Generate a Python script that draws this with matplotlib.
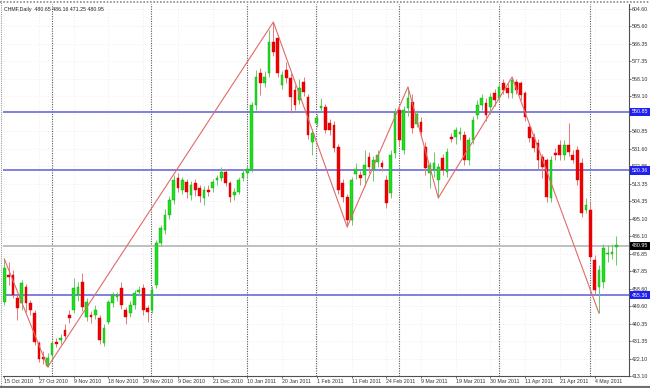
import matplotlib
matplotlib.use("Agg")
import matplotlib.pyplot as plt
from matplotlib.transforms import blended_transform_factory
from matplotlib.lines import Line2D

# ---------------- data ----------------
opens = [451.7, 465.8, 465.8, 453.8, 451.2, 459.5, 451.2, 446.0, 430.3, 423.0,
         418.5, 424.0, 430.8, 431.9, 437.1, 444.9, 447.5, 455.4, 462.1, 443.9,
         444.9, 444.9, 443.4, 430.3, 441.3, 451.2, 454.3, 459.0, 447.5, 446.0,
         450.2, 456.9, 459.0, 448.6, 447.5, 460.6, 482.5, 489.3, 497.1, 504.9,
         516.4, 510.2, 514.3, 507.5, 513.8, 511.2, 506.0, 510.2, 511.2, 515.4,
         516.4, 519.5, 513.8, 507.5, 509.1, 516.4, 519.0, 520.6, 554.5, 571.2,
         566.0, 571.2, 587.4, 589.5, 565.0, 572.8, 568.6, 562.3, 557.1, 566.5,
         558.7, 535.2, 545.1, 553.0, 553.5, 545.1, 544.1, 532.6, 513.8, 506.5,
         494.5, 518.6, 518.0, 518.0, 527.4, 520.6, 524.7, 524.2, 515.4, 508.6,
         529.5, 551.9, 531.0, 553.0, 556.1, 544.6, 545.6, 532.6, 519.0, 520.6,
         515.4, 526.8, 519.5, 537.8, 537.8, 539.4, 538.9, 525.8, 536.2, 549.3,
         554.5, 555.6, 553.5, 560.8, 558.2, 566.0, 563.4, 560.8, 566.5, 566.0,
         560.8, 543.0, 537.8, 534.7, 527.4, 525.8, 506.0, 529.5, 533.6, 528.4,
         533.6, 528.4, 531.0, 524.2, 499.7, 499.7, 473.6, 459.5, 462.2, 476.5,
         477.0, 480.65]
highs = [474.2, 472.6, 468.4, 455.9, 463.2, 461.1, 453.0, 447.5, 431.5, 426.0,
         425.0, 432.0, 433.0, 435.0, 440.0, 447.5, 464.2, 462.0, 466.8, 454.0,
         447.0, 450.0, 445.0, 440.0, 453.0, 457.0, 457.0, 462.2, 449.0, 452.0,
         458.0, 460.0, 461.0, 450.0, 460.0, 484.0, 492.0, 500.0, 507.0, 518.0,
         519.0, 517.0, 516.0, 515.0, 516.0, 513.0, 512.0, 513.0, 516.0, 518.0,
         522.0, 521.0, 515.0, 511.0, 517.0, 521.0, 523.0, 556.0, 572.8, 574.0,
         572.0, 593.6, 597.8, 591.0, 572.0, 577.0, 571.0, 565.0, 568.0, 569.0,
         560.0, 542.0, 550.0, 558.2, 555.0, 547.0, 546.0, 534.0, 516.0, 508.0,
         517.0, 524.0, 520.0, 531.0, 530.0, 528.0, 531.0, 526.0, 518.0, 531.0,
         553.0, 554.0, 554.0, 563.9, 560.0, 552.0, 548.0, 535.0, 525.0, 530.0,
         524.0, 529.0, 532.0, 540.0, 543.0, 543.0, 541.0, 538.0, 549.0, 557.0,
         560.0, 558.0, 561.0, 563.0, 566.0, 568.0, 566.0, 569.1, 568.0, 567.0,
         562.0, 545.0, 540.0, 537.0, 529.0, 527.0, 528.0, 532.0, 536.0, 536.0,
         545.1, 531.0, 533.0, 527.0, 506.0, 503.9, 476.0, 471.0, 482.0, 481.5,
         482.0, 486.16]
lows = [450.1, 460.6, 453.8, 442.3, 447.5, 446.5, 445.0, 429.5, 420.5, 419.5,
        417.8, 421.0, 428.0, 430.0, 432.0, 440.8, 446.0, 452.0, 447.0, 442.0,
        441.0, 443.0, 430.0, 429.0, 440.0, 449.0, 452.0, 448.0, 440.0, 444.0,
        448.0, 455.0, 445.0, 441.3, 446.0, 459.0, 481.0, 487.0, 495.0, 503.0,
        509.0, 508.0, 506.0, 505.0, 507.0, 504.0, 502.3, 507.0, 509.0, 513.0,
        515.0, 512.0, 503.9, 505.0, 508.0, 515.0, 517.0, 519.5, 552.0, 559.7,
        564.0, 569.0, 580.0, 569.0, 563.0, 566.0, 550.3, 552.0, 555.0, 559.0,
        537.0, 528.4, 543.0, 551.0, 540.0, 539.0, 530.0, 508.0, 504.0, 490.9,
        492.0, 516.0, 513.0, 512.2, 519.0, 514.8, 522.0, 520.0, 501.0, 506.0,
        527.0, 533.0, 529.0, 549.0, 540.0, 543.0, 538.0, 518.0, 511.2, 517.0,
        506.0, 518.0, 517.0, 535.0, 534.0, 536.2, 523.0, 523.0, 534.0, 547.0,
        552.0, 546.0, 550.0, 554.0, 556.0, 560.0, 558.0, 558.0, 560.0, 557.0,
        546.0, 535.0, 530.0, 520.6, 516.4, 504.0, 504.0, 526.0, 526.0, 526.0,
        528.0, 524.0, 513.0, 496.0, 498.0, 473.0, 455.4, 446.0, 459.0, 472.6,
        474.0, 471.25]
closes = [469.5, 464.8, 455.4, 448.6, 461.6, 451.2, 447.5, 430.8, 422.0, 422.0,
          422.5, 430.3, 429.8, 432.9, 434.0, 443.4, 459.0, 459.5, 449.1, 451.7,
          443.9, 447.5, 431.9, 438.2, 451.7, 455.4, 455.3, 450.2, 443.9, 450.2,
          456.4, 457.9, 447.5, 446.5, 458.0, 482.5, 490.3, 497.1, 504.9, 515.4,
          511.2, 515.4, 509.1, 512.8, 510.2, 507.0, 510.2, 509.1, 514.3, 516.4,
          519.5, 513.8, 506.5, 509.1, 515.4, 519.0, 521.0, 554.5, 569.1, 566.0,
          569.1, 587.4, 582.2, 571.2, 570.2, 568.6, 558.7, 554.5, 563.4, 561.3,
          538.9, 539.9, 547.7, 553.8, 541.5, 541.5, 532.1, 510.2, 506.5, 494.5,
          515.4, 521.0, 516.4, 523.2, 522.2, 525.8, 528.4, 522.2, 503.4, 528.4,
          550.3, 536.2, 551.9, 558.0, 542.6, 549.9, 540.4, 521.7, 523.2, 524.2,
          522.2, 520.6, 530.0, 536.8, 541.5, 540.4, 525.8, 536.2, 546.7, 554.5,
          558.2, 549.3, 558.7, 557.1, 563.9, 562.3, 560.8, 567.6, 562.3, 559.7,
          548.3, 537.3, 532.1, 525.8, 522.2, 506.5, 525.8, 528.4, 528.4, 533.6,
          530.0, 525.8, 515.4, 498.2, 502.3, 475.2, 458.0, 468.4, 479.9, 477.0,
          478.0, 480.95]

date_labels = ["15 Oct 2010", "27 Oct 2010", "9 Nov 2010", "18 Nov 2010",
               "29 Nov 2010", "9 Dec 2010", "21 Dec 2010", "10 Jan 2011",
               "20 Jan 2011", "1 Feb 2011", "11 Feb 2011", "24 Feb 2011",
               "9 Mar 2011", "19 Mar 2011", "30 Mar 2011", "11 Apr 2011",
               "21 Apr 2011", "4 May 2011"]
label_bars = [0, 8, 16, 24, 32, 40, 48, 56, 64, 72, 80, 88, 96, 104, 112, 120, 128, 136]
month_start_bars = [11, 34, 56, 72, 91, 114, 135]

price_ticks = [604.60, 595.60, 586.35, 577.35, 568.10, 559.10, 540.85, 531.60,
               522.85, 513.35, 504.35, 495.10, 486.10, 476.85, 467.85, 458.60,
               449.60, 440.35, 431.35, 422.10, 413.10]
level_lines = [550.85, 520.36, 455.36]
bid_price = 480.95

zigzag_bars = [0, 10, 62, 79, 93, 100, 117, 137]
zigzag_kind = ["H", "L", "H", "L", "H", "L", "H", "L"]

header = "CHMF,Daily  480.65 486.16 471.25 480.95"

# ---------------- figure ----------------
W, H = 650, 388
fig = plt.figure(figsize=(W / 100, H / 100), dpi=100)
fig.patch.set_facecolor("white")
ax = fig.add_axes([3 / W, (H - 376) / H, 626 / W, 372 / H])
ax.set_facecolor("white")

FONT = "Liberation Sans"
FS = 3.8

n = len(opens)
x = list(range(n))
ax.set_xlim(-0.3, -0.3 + 626 / 4.34)
ax.set_ylim(413.10, 607.2)

# grid (faint)
for p in price_ticks:
    ax.axhline(p, color="#ead8dc", lw=0.5, ls=(0, (1, 3)), zorder=0)
for b in label_bars:
    ax.axvline(b, color="#ead8dc", lw=0.5, ls=(0, (1, 3)), zorder=0)

# month separators
for b in month_start_bars:
    ax.axvline(b - 0.1, color="#5a5a5a", lw=0.8, ls=(0, (1, 1.2)), zorder=1)

# level lines
for lv in level_lines:
    ax.axhline(lv, color="#6a6ade", lw=1.2, zorder=2)
ax.axhline(bid_price, color="#c0c0c0", lw=1.4, zorder=2)

# candles
up = [c >= o for o, c in zip(opens, closes)]
wick_col = ["#66cc66" if u else "#e87878" for u in up]
ax.vlines(x, lows, highs, colors=wick_col, lw=0.7, zorder=3)
bottoms = [min(o, c) for o, c in zip(opens, closes)]
heights = [max(abs(c - o), 0.8) for o, c in zip(opens, closes)]
face = ["#1ee01e" if u else "#f00000" for u in up]
edge = ["#10a010" if u else "#d00000" for u in up]
ax.bar(x, heights, bottom=bottoms, width=0.62, color=face, edgecolor=edge,
       linewidth=0.3, zorder=4)

# zigzag
zz_y = [highs[b] if k == "H" else lows[b] for b, k in zip(zigzag_bars, zigzag_kind)]
ax.plot(zigzag_bars, zz_y, color="#e06a6a", lw=0.8, zorder=5)

# axes styling
for s in ["left", "top"]:
    ax.spines[s].set_visible(False)
for s in ["right", "bottom"]:
    ax.spines[s].set_color("#505050")
    ax.spines[s].set_linewidth(0.8)

ax.yaxis.tick_right()
ax.set_yticks(price_ticks)
ax.set_yticklabels([f"{p:.2f}" for p in price_ticks])
ax.tick_params(axis="y", length=1.5, width=0.5, pad=0.8, colors="#303030",
               labelsize=FS)
ax.set_xticks(label_bars)
ax.set_xticklabels(date_labels)
ax.tick_params(axis="x", length=1.5, width=0.5, pad=0.8, colors="#303030",
               labelsize=FS)
for lbl in ax.get_xticklabels():
    lbl.set_ha("left")
    lbl.set_fontfamily(FONT)
for lbl in ax.get_yticklabels():
    lbl.set_fontfamily(FONT)

# highlighted price labels
tr = blended_transform_factory(ax.transAxes, ax.transData)
for lv in level_lines:
    ax.text(1.004, lv, f"{lv:.2f}", transform=tr, ha="left", va="center",
            fontsize=FS, family=FONT, color="white", zorder=10, clip_on=False,
            bbox=dict(boxstyle="square,pad=0.35", fc="#2020f0", ec="none"))
ax.text(1.004, bid_price, f"{bid_price:.2f}", transform=tr, ha="left", va="center",
        fontsize=FS, family=FONT, color="white", zorder=10, clip_on=False,
        bbox=dict(boxstyle="square,pad=0.35", fc="#000000", ec="none"))

# header
ax.text(0.002, 0.993, header, transform=ax.transAxes, ha="left", va="top",
        fontsize=FS, family=FONT, color="#202020", zorder=10)

# outer border
fig.add_artist(Line2D([0, 1], [1 - 1.5 / H, 1 - 1.5 / H], transform=fig.transFigure,
                      color="#8a8a8a", lw=1.2, ls=(0, (1, 1))))
fig.add_artist(Line2D([1 / W, 1 / W], [0, 1], transform=fig.transFigure,
                      color="#9a9a9a", lw=0.8, ls=(0, (1, 1))))
fig.add_artist(Line2D([0, 1], [1.5 / H, 1.5 / H], transform=fig.transFigure,
                      color="#707070", lw=1.5))

fig.savefig("out.png", dpi=100, facecolor="white")
